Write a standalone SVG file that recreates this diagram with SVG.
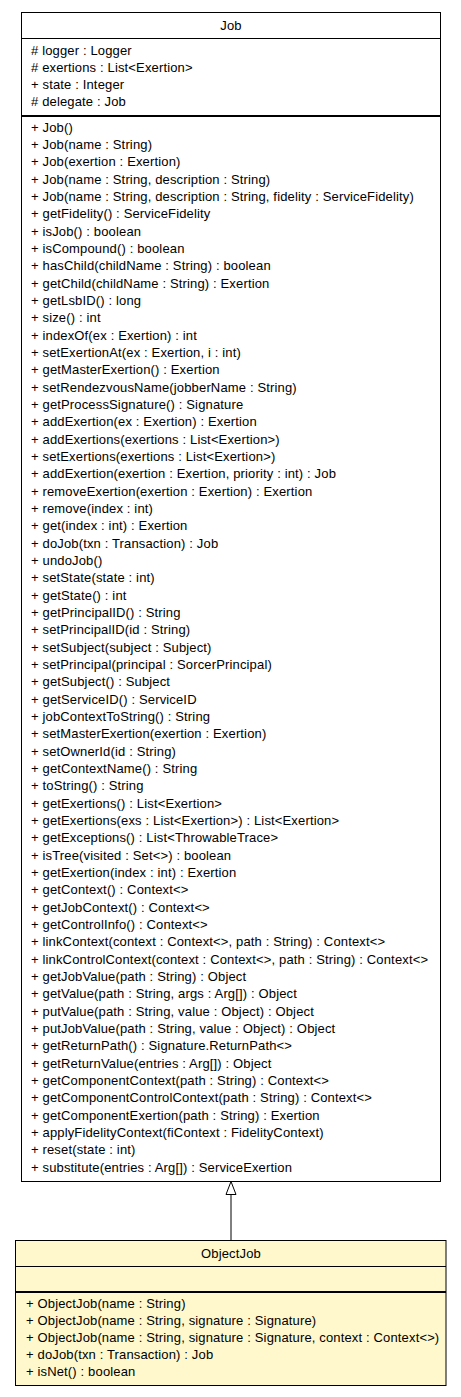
<svg xmlns="http://www.w3.org/2000/svg" width="461" height="1397" viewBox="0 0 461 1397">
<style>
text{font-family:"Liberation Sans",Arial,sans-serif;font-size:13px;letter-spacing:0.15px;fill:#000}
.c{text-anchor:middle}
.box{stroke:#000;stroke-width:1}
.sep{stroke:#000;stroke-width:1}
.sep2{stroke:#000;stroke-width:2}
</style>
<rect width="461" height="1397" fill="#fff"/>
<g id="connectors">
<line x1="231" y1="1240" x2="231" y2="1194.5" stroke="#000" stroke-width="1"/>
<polygon points="231,1181.5 226,1194.5 236,1194.5" fill="#fff" stroke="#000" stroke-width="1"/>
</g>
<g id="Job">
<rect class="box" x="21.5" y="12.5" width="419" height="1169" fill="#fff"/>
<line class="sep" x1="21.5" y1="38.5" x2="440.5" y2="38.5"/>
<line class="sep2" x1="21.5" y1="116" x2="440.5" y2="116"/>
<text class="c" x="231" y="29.5">Job</text>
<text x="31" y="54.5"># logger : Logger</text>
<text x="31" y="71.5"># exertions : List&lt;Exertion&gt;</text>
<text x="31" y="88.5">+ state : Integer</text>
<text x="31" y="105.5"># delegate : Job</text>
<text x="31" y="131.7">+ Job()</text>
<text x="31" y="149">+ Job(name : String)</text>
<text x="31" y="166.4">+ Job(exertion : Exertion)</text>
<text x="31" y="183.7">+ Job(name : String, description : String)</text>
<text x="31" y="201">+ Job(name : String, description : String, fidelity : ServiceFidelity)</text>
<text x="31" y="218.4">+ getFidelity() : ServiceFidelity</text>
<text x="31" y="235.7">+ isJob() : boolean</text>
<text x="31" y="253">+ isCompound() : boolean</text>
<text x="31" y="270.4">+ hasChild(childName : String) : boolean</text>
<text x="31" y="287.7">+ getChild(childName : String) : Exertion</text>
<text x="31" y="305">+ getLsbID() : long</text>
<text x="31" y="322.4">+ size() : int</text>
<text x="31" y="339.7">+ indexOf(ex : Exertion) : int</text>
<text x="31" y="357">+ setExertionAt(ex : Exertion, i : int)</text>
<text x="31" y="374.4">+ getMasterExertion() : Exertion</text>
<text x="31" y="391.7">+ setRendezvousName(jobberName : String)</text>
<text x="31" y="409">+ getProcessSignature() : Signature</text>
<text x="31" y="426.4">+ addExertion(ex : Exertion) : Exertion</text>
<text x="31" y="443.7">+ addExertions(exertions : List&lt;Exertion&gt;)</text>
<text x="31" y="461">+ setExertions(exertions : List&lt;Exertion&gt;)</text>
<text x="31" y="478.4">+ addExertion(exertion : Exertion, priority : int) : Job</text>
<text x="31" y="495.7">+ removeExertion(exertion : Exertion) : Exertion</text>
<text x="31" y="513">+ remove(index : int)</text>
<text x="31" y="530.4">+ get(index : int) : Exertion</text>
<text x="31" y="547.7">+ doJob(txn : Transaction) : Job</text>
<text x="31" y="565">+ undoJob()</text>
<text x="31" y="582.4">+ setState(state : int)</text>
<text x="31" y="599.7">+ getState() : int</text>
<text x="31" y="617">+ getPrincipalID() : String</text>
<text x="31" y="634.4">+ setPrincipalID(id : String)</text>
<text x="31" y="651.7">+ setSubject(subject : Subject)</text>
<text x="31" y="669">+ setPrincipal(principal : SorcerPrincipal)</text>
<text x="31" y="686.4">+ getSubject() : Subject</text>
<text x="31" y="703.7">+ getServiceID() : ServiceID</text>
<text x="31" y="721">+ jobContextToString() : String</text>
<text x="31" y="738.4">+ setMasterExertion(exertion : Exertion)</text>
<text x="31" y="755.7">+ setOwnerId(id : String)</text>
<text x="31" y="773">+ getContextName() : String</text>
<text x="31" y="790.4">+ toString() : String</text>
<text x="31" y="807.7">+ getExertions() : List&lt;Exertion&gt;</text>
<text x="31" y="825">+ getExertions(exs : List&lt;Exertion&gt;) : List&lt;Exertion&gt;</text>
<text x="31" y="842.4">+ getExceptions() : List&lt;ThrowableTrace&gt;</text>
<text x="31" y="859.7">+ isTree(visited : Set&lt;&gt;) : boolean</text>
<text x="31" y="877">+ getExertion(index : int) : Exertion</text>
<text x="31" y="894.4">+ getContext() : Context&lt;&gt;</text>
<text x="31" y="911.7">+ getJobContext() : Context&lt;&gt;</text>
<text x="31" y="929">+ getControlInfo() : Context&lt;&gt;</text>
<text x="31" y="946.4">+ linkContext(context : Context&lt;&gt;, path : String) : Context&lt;&gt;</text>
<text x="31" y="963.7">+ linkControlContext(context : Context&lt;&gt;, path : String) : Context&lt;&gt;</text>
<text x="31" y="981">+ getJobValue(path : String) : Object</text>
<text x="31" y="998.4">+ getValue(path : String, args : Arg[]) : Object</text>
<text x="31" y="1015.7">+ putValue(path : String, value : Object) : Object</text>
<text x="31" y="1033">+ putJobValue(path : String, value : Object) : Object</text>
<text x="31" y="1050.4">+ getReturnPath() : Signature.ReturnPath&lt;&gt;</text>
<text x="31" y="1067.7">+ getReturnValue(entries : Arg[]) : Object</text>
<text x="31" y="1085">+ getComponentContext(path : String) : Context&lt;&gt;</text>
<text x="31" y="1102.4">+ getComponentControlContext(path : String) : Context&lt;&gt;</text>
<text x="31" y="1119.7">+ getComponentExertion(path : String) : Exertion</text>
<text x="31" y="1137">+ applyFidelityContext(fiContext : FidelityContext)</text>
<text x="31" y="1154.4">+ reset(state : int)</text>
<text x="31" y="1171.7">+ substitute(entries : Arg[]) : ServiceExertion</text>
</g>
<g id="ObjectJob">
<rect class="box" x="15.5" y="1240.5" width="430.5" height="145" fill="#fff8cc"/>
<line class="sep" x1="15.5" y1="1266.5" x2="446" y2="1266.5"/>
<line class="sep2" x1="15.5" y1="1292" x2="446" y2="1292"/>
<text class="c" x="231" y="1257.5">ObjectJob</text>
<text x="26" y="1307.5">+ ObjectJob(name : String)</text>
<text x="26" y="1324.5">+ ObjectJob(name : String, signature : Signature)</text>
<text x="26" y="1341.5">+ ObjectJob(name : String, signature : Signature, context : Context&lt;&gt;)</text>
<text x="26" y="1358.5">+ doJob(txn : Transaction) : Job</text>
<text x="26" y="1375.5">+ isNet() : boolean</text>
</g>
</svg>
